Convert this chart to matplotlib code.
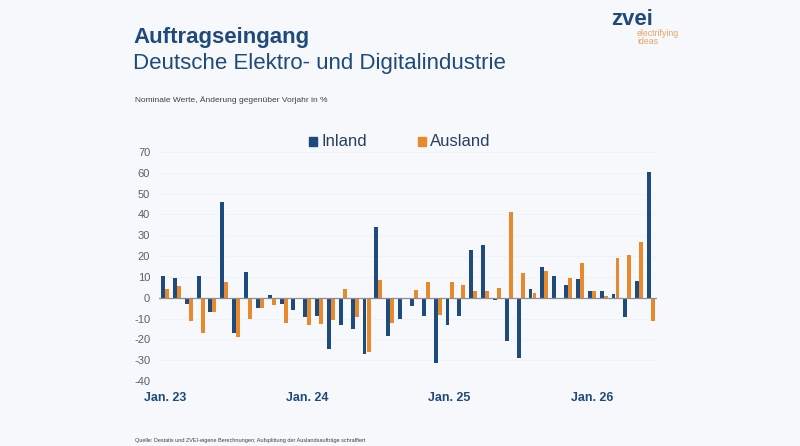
import numpy as np
import matplotlib
matplotlib.use("Agg")
import matplotlib.pyplot as plt
from matplotlib.patches import Rectangle

plt.rcParams['font.family'] = ['Liberation Sans', 'DejaVu Sans']

# Monthly values, Jan 2023 .. Jun 2026 (change vs. previous year in %)
inland = [10.2, 9.4, -2.9, 10.2, -6.8, 46.2, -17.0, 12.2, -4.8, 1.4, -3.2, -5.9,
          -9.2, -9.0, -24.4, -13.0, -14.8, -27.0, 33.8, -18.4, -10.3, -4.1, -9.0, -31.4,
          -13.0, -9.0, 22.9, 25.1, -1.1, -20.6, -28.9, 4.0, 14.6, 10.3, 6.0, 8.9,
          3.0, 3.0, 1.7, -9.4, 7.8, 60.2]
ausland = [4.0, 5.4, -11.1, -17.0, -6.8, 7.6, -19.0, -10.0, -4.8, -3.5, -12.1, 0.0,
           -12.9, -12.5, -10.5, 4.4, -9.2, -25.9, 8.6, -12.1, -0.5, 3.6, 7.6, -8.4,
           7.6, 6.3, 3.3, 3.3, 4.8, 41.3, 11.7, 2.4, 12.9, 0.0, 9.7, 16.7,
           3.3, 0.6, 19.2, 20.5, 27.0, -11.1]
tick_months = [0, 12, 24, 36]
tick_labels = ["Jan. 23", "Jan. 24", "Jan. 25", "Jan. 26"]
y_ticks = list(range(-40, 71, 10))

bg = '#F6F8FB'
blue = '#1D4B7E'
orange = '#E8892E'
navy_text = '#1F4A7A'
gray_text = '#56606B'

W, H = 800, 446
fig = plt.figure(figsize=(W / 100, H / 100), dpi=100, facecolor=bg)
ax = fig.add_axes([158.5 / W, 1 - 381 / H, (657 - 158.5) / W, (381 - 152) / H])
ax.set_facecolor(bg)

x = np.arange(len(inland))
bw = 0.33
ax.bar(x - 0.17, inland, width=bw, color=blue, zorder=3)
ax.bar(x + 0.17, ausland, width=bw, color=orange, zorder=3)

ax.set_xlim(-0.55, 41.5)
ax.set_ylim(-40, 70)
ax.set_yticks(y_ticks)
ax.set_yticklabels([str(v) for v in y_ticks], fontsize=8, color=gray_text)
ax.set_xticks(tick_months)
ax.set_xticklabels(tick_labels, fontsize=9, fontweight='bold', color=navy_text)
ax.tick_params(axis='y', length=0, pad=6)
ax.tick_params(axis='x', length=0, pad=8)
for s in ax.spines.values():
    s.set_visible(False)
ax.grid(axis='y', color='#EFF2F6', linewidth=0.6, zorder=0)
ax.axhline(0, color='#8A8F96', linewidth=0.9, zorder=4)

# titles
fig.text(133 / W, 1 - 43.5 / H, "Auftragseingang", fontsize=16, fontweight='bold',
         color=navy_text, va='baseline')
fig.text(133 / W, 1 - 68.5 / H, "Deutsche Elektro- und Digitalindustrie", fontsize=16,
         color=navy_text, va='baseline')
fig.text(135 / W, 1 - 102.5 / H, "Nominale Werte, Änderung gegenüber Vorjahr in %",
         fontsize=6, color='#404040', va='baseline')

# legend
for sx, tx, label, col in [(309, 321.5, "Inland", blue), (417.5, 430, "Ausland", orange)]:
    fig.add_artist(Rectangle((sx / W, 1 - 145.5 / H), 8 / W, 8 / H,
                             transform=fig.transFigure, color=col))
    fig.text(tx / W, 1 - 146.5 / H, label, fontsize=12, color='#27405E', va='baseline')

# logo
fig.text(611 / W, 1 - 25 / H, "zvei", fontsize=16, fontweight='bold',
         color=navy_text, va='baseline')
fig.text(637 / W, 1 - 36.5 / H, "electrifying", fontsize=6.3, color='#E9A264', va='baseline')
fig.text(637 / W, 1 - 44 / H, "ideas", fontsize=6.3, color='#E9A264', va='baseline')

# source
fig.text(135 / W, 1 - 442 / H,
         "Quelle: Destatis und ZVEI-eigene Berechnungen; Aufsplittung der Auslandsaufträge schraffiert",
         fontsize=4, color='#404040', va='baseline')

fig.savefig("out.png", dpi=100, facecolor=bg)
